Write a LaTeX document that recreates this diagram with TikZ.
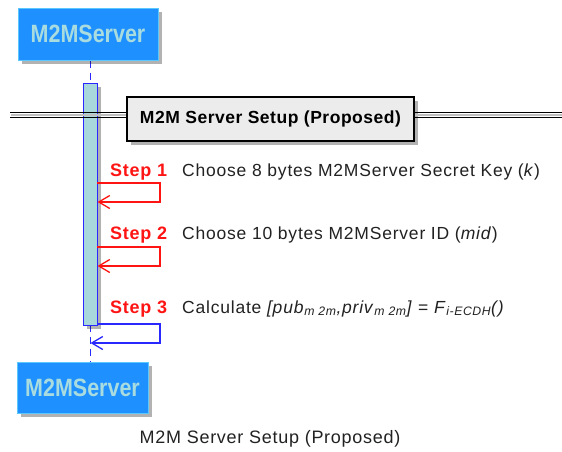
\documentclass[tikz,border=0pt]{standalone}
\usepackage{fontspec}
\setmainfont{Liberation Sans}
\usetikzlibrary{arrows.meta,shadows}

\definecolor{partfill}{RGB}{30,144,255}
\definecolor{partedge}{RGB}{90,200,255}
\definecolor{parttext}{RGB}{169,220,223}
\definecolor{barfill}{RGB}{168,216,220}
\definecolor{lifeblue}{RGB}{40,40,255}
\definecolor{divfill}{RGB}{236,236,236}
\definecolor{steptxt}{RGB}{34,34,34}
\definecolor{stepred}{RGB}{255,20,20}

\tikzset{
  shadowed/.style={drop shadow={shadow xshift=4pt,shadow yshift=-4pt,fill=black,opacity=.3}},
  participant/.style={rectangle,shadowed,fill=partfill,draw=partedge,line width=1pt,
    text=parttext,inner sep=0pt,
    font=\bfseries\fontsize{25}{25}\selectfont},
  lifeline/.style={draw=lifeblue,line width=1pt,dash pattern=on 7pt off 5pt},
  activation/.style={rectangle,shadowed,fill=barfill,draw=lifeblue,line width=1pt,inner sep=0pt},
  divbox/.style={rectangle,shadowed,fill=divfill,draw=black,line width=1.5pt,inner sep=0pt,
    font=\bfseries\fontsize{17.5}{20}\selectfont\addfontfeatures{LetterSpace=3}},
  steplabel/.style={anchor=base west,inner sep=0pt,text=stepred,
    font=\bfseries\fontsize{18}{20}\selectfont\addfontfeatures{LetterSpace=4}},
  steptext/.style={anchor=base west,inner sep=0pt,text=steptxt,
    font=\fontsize{17.5}{20}\selectfont\addfontfeatures{LetterSpace=4.5}},
  selfmsg/.style={line width=1.3pt,-{Straight Barb[length=11pt,width=13pt,line width=1.3pt]}},
}

\newcommand{\lowsub}[1]{\textsubscript{\itshape #1}}

\begin{document}
\begin{tikzpicture}[x=1pt,y=-1pt]
\useasboundingbox[fill=white] (0,0) rectangle (562,451);

% lifeline and activation bar
\coordinate (lA) at (90,61);
\coordinate (lB) at (90,83);
\coordinate (lC) at (90,325);
\coordinate (lD) at (90,362);
\draw[lifeline] (lA) -- (lB);
\draw[lifeline] (lC) -- (lD);
\node[activation,minimum width=14pt,minimum height=242pt] (bar) at (90,204) {};

% participants
\node[participant,minimum width=140pt,minimum height=52pt] (top) at (88,34)
  {\scalebox{0.86}[1]{M2MServer}};
\node[participant,minimum width=131pt,minimum height=51pt] (bot) at (82.5,387.5)
  {\scalebox{0.86}[1]{M2MServer}};

% divider
\node[divbox,minimum width=287pt,minimum height=44pt] (div) at (270.5,119)
  {M2M Server Setup (Proposed)};
\begin{scope}[line width=1.3pt]
  \draw[black!25] (11,115) -- (div.west|-0,115);
  \draw[black!25] (div.east|-0,115) -- (562,115);
  \draw (10,112.8) -- (div.west|-0,112.8);
  \draw (10,117.8) -- (div.west|-0,117.8);
  \draw (div.east|-0,112.8) -- (562,112.8);
  \draw (div.east|-0,117.8) -- (562,117.8);
\end{scope}

% step 1
\node[steplabel] (s1) at (110,176) {Step 1};
\node[steptext] (t1) at (182,176) {Choose 8 bytes M2MServer Secret Key (\textit{k})};
\coordinate (a1) at (97,183);
\coordinate (b1) at (160,183);
\coordinate (c1) at (160,202);
\coordinate (d1) at (97.5,202);
\draw[selfmsg,draw=stepred] (a1) -- (b1) -- (c1) -- (d1);

% step 2
\node[steplabel] (s2) at (110,239) {Step 2};
\node[steptext] (t2) at (182,239) {Choose 10 bytes M2MServer ID (\textit{mid})};
\coordinate (a2) at (97,247);
\coordinate (b2) at (160,247);
\coordinate (c2) at (160,266);
\coordinate (d2) at (97.5,266);
\draw[selfmsg,draw=stepred] (a2) -- (b2) -- (c2) -- (d2);

% step 3
\node[steplabel] (s3) at (110,313) {Step 3};
\node[steptext] (t3) at (182,313)
  {Calculate \textit{[pub}\lowsub{m 2m}\textit{,priv}\lowsub{m 2m}\textit{]} = \textit{F}\lowsub{i-ECDH}\textit{()}};
\coordinate (a3) at (97,324);
\coordinate (b3) at (160,324);
\coordinate (c3) at (160,343);
\coordinate (d3) at (90.5,343);
\draw[selfmsg,draw=lifeblue] (a3) -- (b3) -- (c3) -- (d3);

% caption
\node[inner sep=0pt,anchor=base,text=steptxt,
  font=\fontsize{18}{20}\selectfont\addfontfeatures{LetterSpace=4}] (cap) at (270,443)
  {M2M Server Setup (Proposed)};
\end{tikzpicture}
\end{document}
